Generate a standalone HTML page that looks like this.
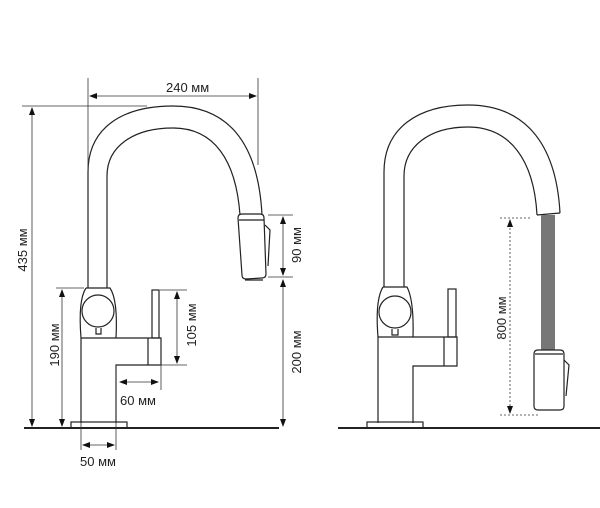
<!DOCTYPE html>
<html><head><meta charset="utf-8"><style>
html,body{margin:0;padding:0;background:#fff;}
svg{display:block;}
text{font-family:"Liberation Sans",sans-serif;font-size:13px;fill:#222;}
</style></head><body>
<svg width="600" height="508" viewBox="0 0 600 508" xmlns="http://www.w3.org/2000/svg">
<defs>
<marker id="a" markerWidth="8" markerHeight="6" refX="7" refY="3" orient="auto" markerUnits="userSpaceOnUse"><path d="M0,0 L8,3 L0,6 Z" fill="#111"/></marker>
<marker id="b" markerWidth="8" markerHeight="6" refX="1" refY="3" orient="auto" markerUnits="userSpaceOnUse"><path d="M8,0 L0,3 L8,6 Z" fill="#111"/></marker>
</defs>
<g fill="none" stroke="#222" stroke-width="1.2">
<line x1="24" y1="428" x2="279" y2="428" stroke-width="2"/>
<rect x="71" y="422" width="56" height="6"/>
<path d="M81,423 L81,338 L161,338 L161,365 L116,365 L116,423"/>
<line x1="148" y1="338" x2="148" y2="365"/>
<rect x="152" y="290" width="7" height="48"/>
<path d="M86,288 L110,288 Q118,300 116,338 M86,288 Q78,300 81,338"/>
<circle cx="98" cy="311" r="16"/>
<path d="M96,328 L96,334 L101,334 L101,328"/>
<path d="M88,288 L88,172 C88,128 122,106 173,106 C226,106 258,140 262,215"/>
<path d="M107,288 L107,176 C107,146 134,128 173,128 C214,128 236,160 240,215"/>
<path d="M238,218 Q238,214 242,214 L260,214 Q264,214 264,218 L266,274 Q266,278 262,278 L246,279 Q242,279 242,275 Z"/>
<line x1="239" y1="220" x2="264" y2="220"/>
<path d="M265,225 L270,230 L268,266"/>
<line x1="245" y1="280" x2="263" y2="280"/>
<line x1="541" y1="215" x2="541" y2="215"/>
<line x1="338" y1="428" x2="600" y2="428" stroke-width="2"/>
<rect x="367" y="422" width="56" height="6"/>
<path d="M378,423 L378,337 L457,337 L457,366 L413,366 L413,423"/>
<line x1="444" y1="337" x2="444" y2="366"/>
<rect x="448" y="289" width="8" height="48"/>
<path d="M383,287 L407,287 Q414,300 413,337 M383,287 Q375,300 378,337"/>
<circle cx="395" cy="312" r="16"/>
<path d="M392,329 L392,335 L398,335 L398,329"/>
<path d="M384,287 L384,172 C384,128 418,105 468,105 C522,105 556,140 560,213"/>
<path d="M404,287 L404,176 C404,146 430,127 468,127 C510,127 534,160 537,215"/>
<path d="M537,215 L560,213"/>
<rect x="541" y="215" width="14" height="135" fill="#777" stroke="none"/>
<path d="M534,354 Q534,350 538,350 L560,350 Q564,350 564,354 L564,406 Q564,410 560,410 L538,410 Q534,410 534,406 Z"/>
<line x1="535" y1="354" x2="563" y2="354"/>
<path d="M564,360 L569,365 L566,396"/>
</g>
<g stroke="#333" stroke-width="0.8" fill="none">
<line x1="88" y1="78" x2="88" y2="170"/>
<line x1="258" y1="78" x2="258" y2="165"/>
<line x1="90" y1="96" x2="256" y2="96" marker-start="url(#b)" marker-end="url(#a)"/>
<line x1="22" y1="106" x2="147" y2="106"/>
<line x1="32" y1="108" x2="32" y2="426" marker-start="url(#b)" marker-end="url(#a)"/>
<line x1="56" y1="288" x2="84" y2="288"/>
<line x1="62" y1="290" x2="62" y2="426" marker-start="url(#b)" marker-end="url(#a)"/>
<line x1="160" y1="290" x2="187" y2="290"/>
<line x1="160" y1="365" x2="187" y2="365"/>
<line x1="177" y1="292" x2="177" y2="363" marker-start="url(#b)" marker-end="url(#a)"/>
<line x1="268" y1="215" x2="293" y2="215"/>
<line x1="268" y1="277" x2="293" y2="277"/>
<line x1="283" y1="217" x2="283" y2="275" marker-start="url(#b)" marker-end="url(#a)"/>
<line x1="283" y1="280" x2="283" y2="426" marker-start="url(#b)" marker-end="url(#a)"/>
<line x1="116" y1="365" x2="116" y2="450"/>
<line x1="161" y1="365" x2="161" y2="390"/>
<line x1="120" y1="382" x2="158" y2="382" marker-start="url(#b)" marker-end="url(#a)"/>
<line x1="81" y1="423" x2="81" y2="450"/>
<line x1="83" y1="445" x2="114" y2="445" marker-start="url(#b)" marker-end="url(#a)"/>
<g stroke-dasharray="2,2">
<line x1="500" y1="218" x2="530" y2="218"/>
<line x1="500" y1="415" x2="540" y2="415"/>
<line x1="510" y1="220" x2="510" y2="413" marker-start="url(#b)" marker-end="url(#a)"/>
</g>
</g>
<text x="166" y="92">240 мм</text>
<text transform="translate(27,250) rotate(-90)" text-anchor="middle">435 мм</text>
<text transform="translate(59,345) rotate(-90)" text-anchor="middle">190 мм</text>
<text transform="translate(196,325) rotate(-90)" text-anchor="middle">105 мм</text>
<text transform="translate(301,245) rotate(-90)" text-anchor="middle">90 мм</text>
<text transform="translate(301,352) rotate(-90)" text-anchor="middle">200 мм</text>
<text transform="translate(506,318) rotate(-90)" text-anchor="middle">800 мм</text>
<text x="120" y="405">60 мм</text>
<text x="80" y="466">50 мм</text>
</svg>
</body></html>
